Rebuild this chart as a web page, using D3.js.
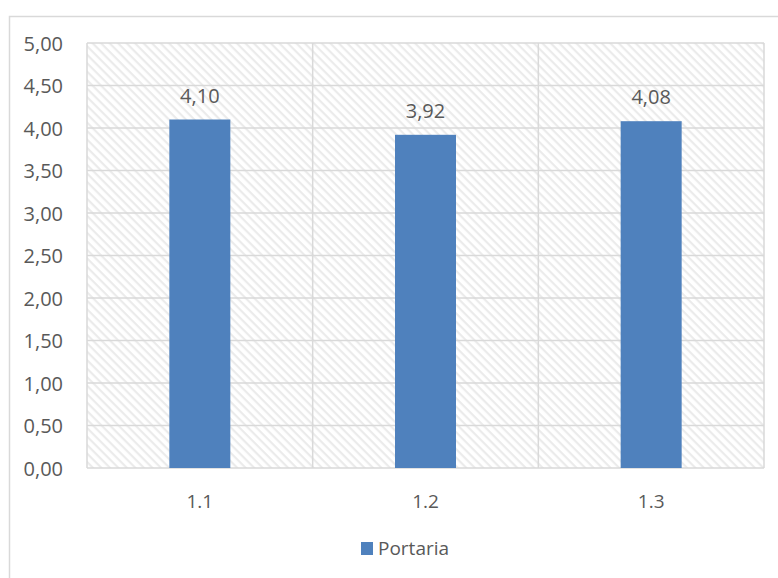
<!DOCTYPE html>
<html>
<head>
<meta charset="utf-8">
<script src="https://cdn.jsdelivr.net/npm/d3@7"></script>
<style>
  body { margin: 0; background: #fff; }
  text { font-family: "Open Sans", "Noto Sans", sans-serif; fill: #595959; }
</style>
</head>
<body>
<svg width="778" height="578"></svg>
<script>
// dados do grafico
const categories = ["1.1", "1.2", "1.3"];
const values = [4.10, 3.92, 4.08];
const seriesName = "Portaria";
const yTicks = [0, 0.5, 1, 1.5, 2, 2.5, 3, 3.5, 4, 4.5, 5];

const svg = d3.select("svg"),
  width = +svg.attr("width"),
  height = +svg.attr("height");

const margin = { top: 43, right: 14, bottom: 110, left: 87 };
const fmt = d => d.toFixed(2).replace(".", ",");

// padrao de fundo tracejado
const defs = svg.append("defs");
const pat = defs.append("pattern")
  .attr("id", "hatch")
  .attr("patternUnits", "userSpaceOnUse")
  .attr("width", 6)
  .attr("height", 6)
  .attr("patternTransform", "rotate(45)");
pat.append("rect").attr("width", 6).attr("height", 6).attr("fill", "#fff");
pat.append("rect").attr("width", 6).attr("height", 2.2).attr("fill", "#ebebeb");

// borda externa
svg.append("rect")
  .attr("x", 9.5).attr("y", 16.5)
  .attr("width", 780).attr("height", 580)
  .attr("fill", "#fff")
  .attr("stroke", "#d9d9d9")
  .attr("stroke-width", 1.5);

const x = d3.scaleBand()
  .domain(categories)
  .range([margin.left, width - margin.right])
  .paddingInner(0).paddingOuter(0);

const y = d3.scaleLinear()
  .domain([0, 5])
  .range([height - margin.bottom, margin.top]);

svg.append("rect")
  .attr("x", margin.left).attr("y", margin.top)
  .attr("width", width - margin.left - margin.right)
  .attr("height", height - margin.top - margin.bottom)
  .attr("fill", "url(#hatch)");

// linhas de grade
svg.append("g")
  .selectAll("line")
  .data(yTicks)
  .join("line")
  .attr("x1", margin.left).attr("x2", width - margin.right)
  .attr("y1", d => y(d)).attr("y2", d => y(d))
  .attr("stroke", "#d9d9d9").attr("stroke-width", 1.5);

const vLines = categories.map(c => x(c)).concat([width - margin.right]);
svg.append("g")
  .selectAll("line")
  .data(vLines)
  .join("line")
  .attr("x1", d => d).attr("x2", d => d)
  .attr("y1", margin.top).attr("y2", height - margin.bottom)
  .attr("stroke", "#d9d9d9").attr("stroke-width", 1.5);

// eixo y
const yAxis = svg.append("g")
  .attr("transform", `translate(${margin.left - 21},0)`)
  .call(d3.axisLeft(y).tickValues(yTicks).tickFormat(fmt).tickSize(0));
yAxis.select(".domain").remove();
yAxis.selectAll("text").attr("font-size", 20).attr("dy", "0.35em");

// eixo x
const xAxis = svg.append("g")
  .attr("transform", `translate(0,${height - margin.bottom + 23})`)
  .call(d3.axisBottom(x).tickSize(0));
xAxis.select(".domain").remove();
xAxis.selectAll("text").attr("font-size", 19).attr("dy", "0.71em");
svg.selectAll(".tick text").style("fill", "#595959").style("font-family", "'Open Sans', sans-serif");

// barras
const barW = 61;
svg.append("g")
  .selectAll("rect")
  .data(values)
  .join("rect")
  .attr("x", (d, i) => x(categories[i]) + x.bandwidth() / 2 - barW / 2)
  .attr("y", d => y(d))
  .attr("width", barW)
  .attr("height", d => y(0) - y(d))
  .attr("fill", "#4f81bd");

// rotulos
svg.append("g")
  .selectAll("text")
  .data(values)
  .join("text")
  .attr("x", (d, i) => x(categories[i]) + x.bandwidth() / 2)
  .attr("y", d => y(d) - 17)
  .attr("text-anchor", "middle")
  .attr("font-size", 20)
  .text(fmt);

// legenda
const legend = svg.append("g").attr("transform", "translate(361,542)");
legend.append("rect").attr("width", 12).attr("height", 13).attr("fill", "#4f81bd");
legend.append("text")
  .attr("x", 17).attr("y", 13)
  .attr("font-size", 19)
  .text(seriesName);
</script>
</body>
</html>
